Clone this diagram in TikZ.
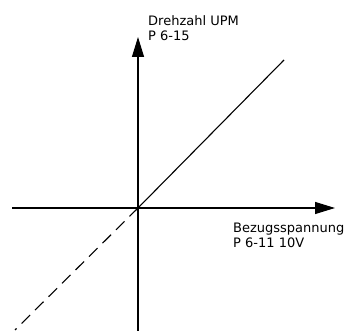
\documentclass[tikz,border=0pt]{standalone}
\usepackage{fontspec}
\setmainfont{DejaVu Sans}
\usetikzlibrary{arrows.meta}

\begin{document}
\begin{tikzpicture}[x=1pt, y=1pt,
    axis/.style={line width=1.2pt, -{Triangle[length=20pt, width=12pt]}},
    curve/.style={line width=1.1pt},
    label/.style={anchor=north west, inner sep=0pt, align=left,
      font=\fontsize{13}{15}\selectfont}]
  % Background
  \useasboundingbox (0, 0) rectangle (356, 331);

  % Points
  \coordinate (origin) at (138, 123);
  \coordinate (xstart) at (12, 123);
  \coordinate (xend) at (335, 123);
  \coordinate (ystart) at (138, 0);
  \coordinate (yend) at (138, 294);
  \coordinate (lineend) at (284, 271);
  \coordinate (dashend) at (15, 1);

  % Axes
  \draw[axis] (xstart) -- (xend);
  \draw[axis] (ystart) -- (yend);

  % Characteristic
  \draw[curve] (origin) -- (lineend);
  \draw[curve, dash pattern=on 12pt off 7pt] (origin) -- (dashend);

  % Labels
  \node[label] (ylabel) at (148, 316) {Drehzahl UPM\\P 6-15};
  \node[label] (xlabel) at (233, 108) {Bezugsspannung\\P 6-11 10V};

\end{tikzpicture}
\end{document}
